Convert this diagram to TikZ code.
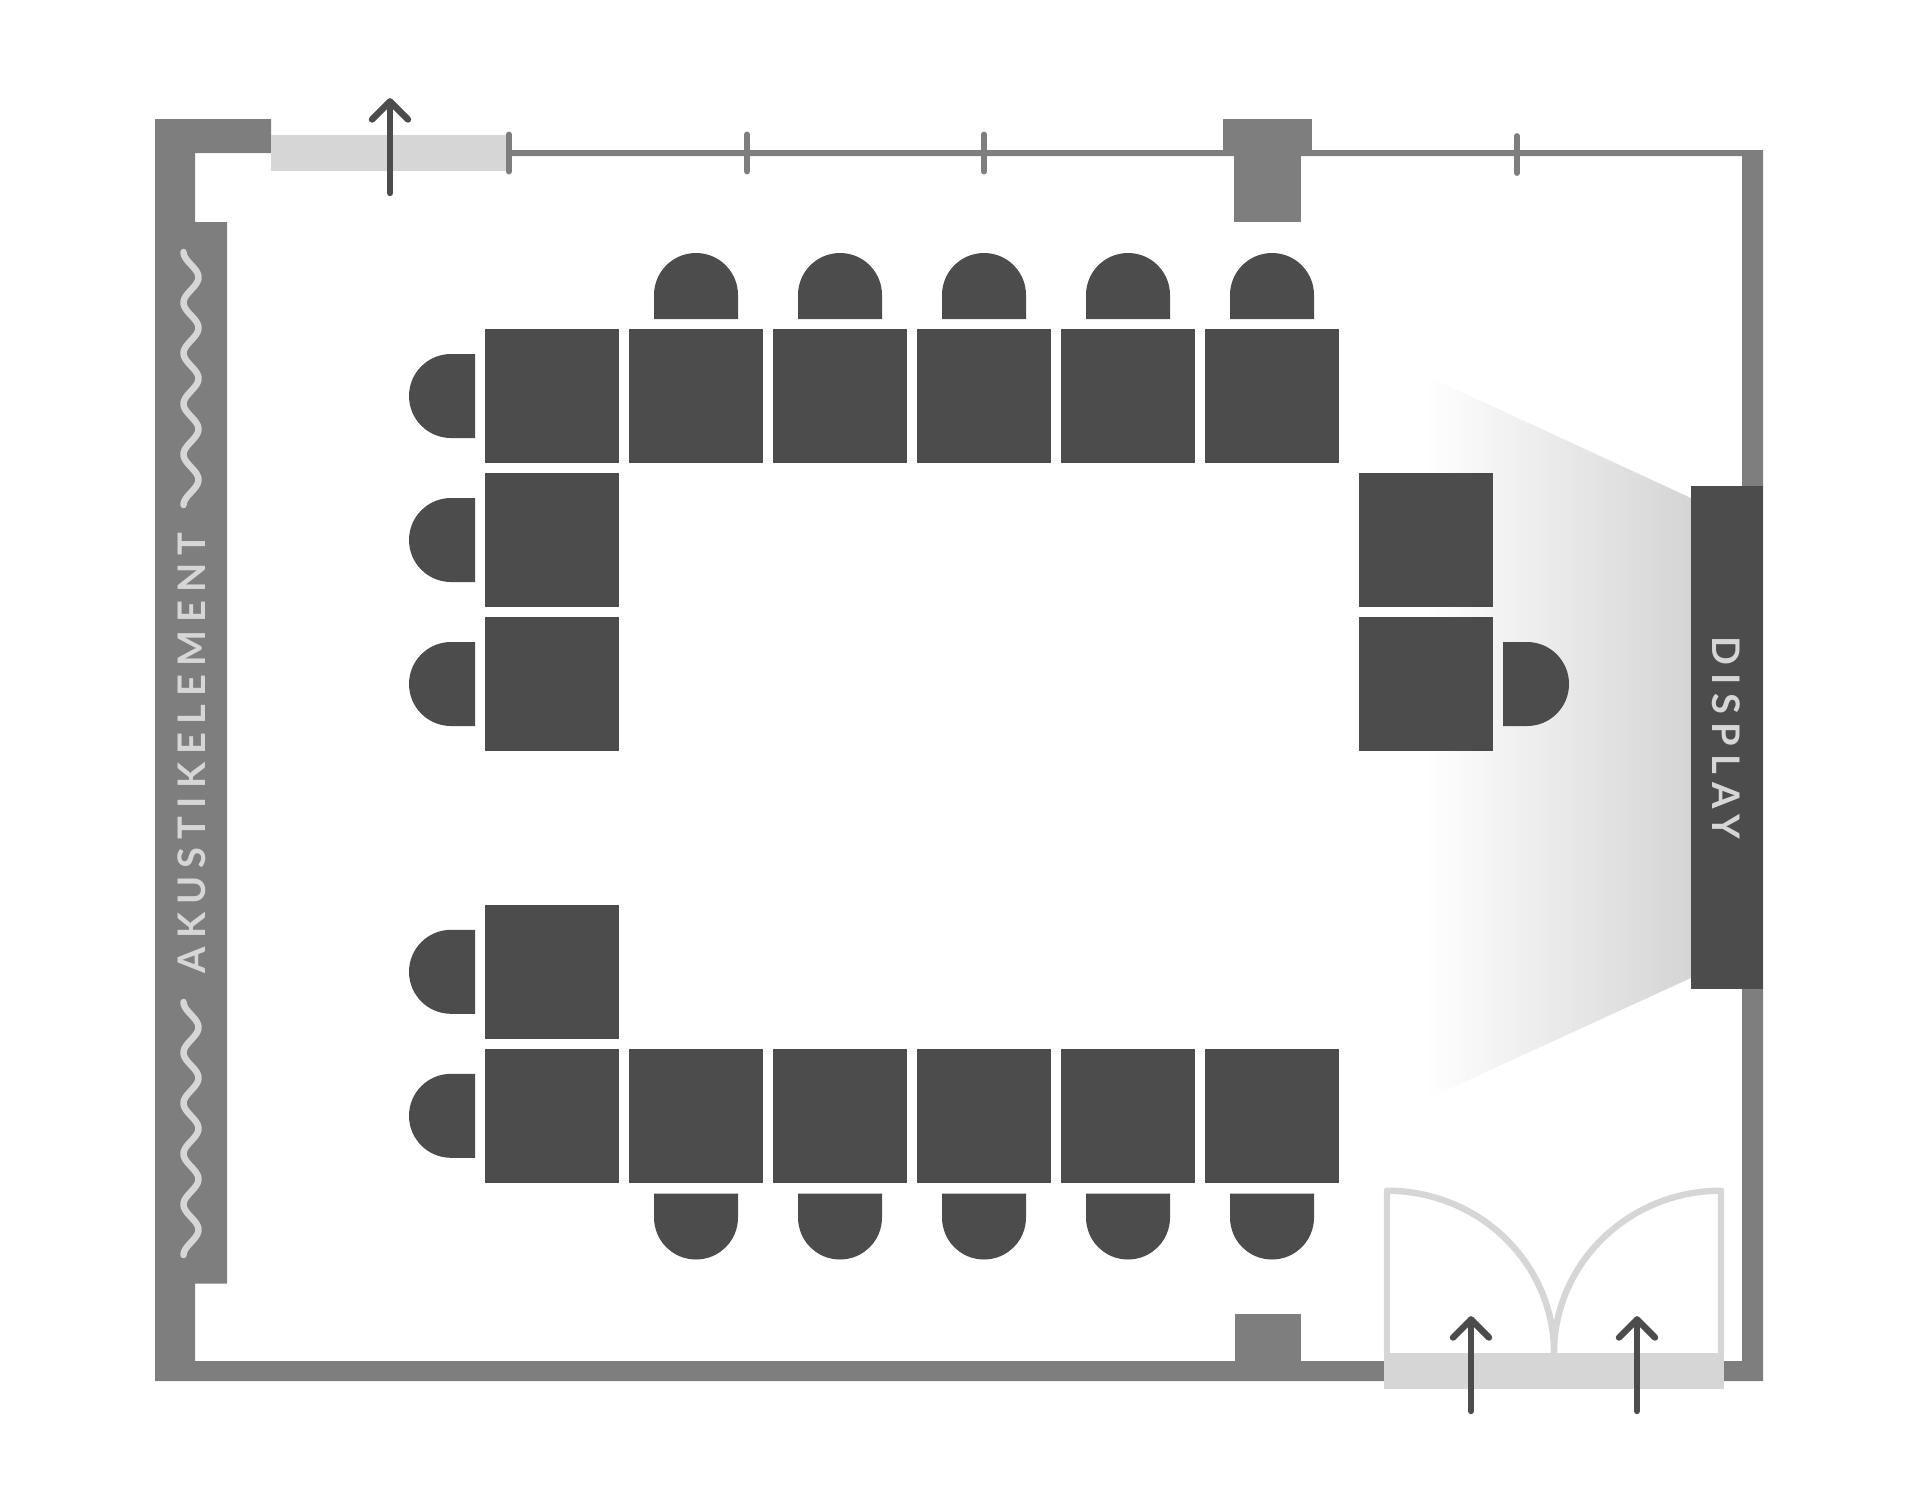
\documentclass[tikz,border=0pt]{standalone}
\usepackage{fontspec}
\setmainfont{Lato}
\newfontfamily\labelfontA[LetterSpace=21.5]{Lato Bold}
\newfontfamily\labelfontB[LetterSpace=22]{Lato Bold}
\definecolor{wallgray}{HTML}{7E7E7E}
\definecolor{darkgray}{HTML}{4C4C4C}
\definecolor{lightgray}{HTML}{D6D6D6}
\definecolor{conegray}{HTML}{D4D4D4}
\tikzset{
  wall/.style={fill=wallgray},
  tablebox/.style={fill=darkgray},
  chairbox/.style={fill=darkgray,rounded corners=42pt},
  glass/.style={fill=lightgray},
  tick/.style={draw=wallgray,line width=5.8pt,line cap=round},
  exitarrow/.style={draw=darkgray,line width=6.4pt,line cap=round,line join=round},
  doorline/.style={draw=lightgray,line width=6.4pt,line join=round},
  wavy/.style={draw=lightgray,line width=6.5pt,line cap=round,line join=round},
  labeltext/.style={text=lightgray,inner sep=0pt,font=\fontsize{38}{38}\selectfont}
}
\newcommand{\tbl}[2]{\fill[tablebox] (#1,#2) rectangle ++(134,134);}
\newcommand{\chairL}[1]{\fill[chairbox] (475,#1) -- (409,#1) -- (409,#1+84) -- (475,#1+84);}
\newcommand{\chairR}[1]{\fill[chairbox] (1503,#1) -- (1569,#1) -- (1569,#1+84) -- (1503,#1+84);}
\newcommand{\chairT}[1]{\fill[chairbox] (#1,319) -- (#1,253) -- (#1+84,253) -- (#1+84,319);}
\newcommand{\chairB}[1]{\fill[chairbox] (#1,1193.5) -- (#1,1259.5) -- (#1+84,1259.5) -- (#1+84,1193.5);}
\newcommand{\upArrow}[2]{\draw[exitarrow] (#1,#2) -- (#1,#2-91.5); \draw[exitarrow] (#1-18,#2-73.5) -- (#1,#2-91.5) -- (#1+18,#2-73.5);}
\newcommand{\wavyline}[1]{\draw[wavy,samples=121,domain=0:253] plot ({191-7.5*cos(7.1146*\x)},{#1+\x});}
\begin{document}
\begin{tikzpicture}[x=1pt,y=-1pt]
\useasboundingbox (0,0) rectangle (1920,1500);
% projection cone
\shade[left color=white,right color=conegray] (1425,375) -- (1693,499) -- (1693,977) -- (1425,1100) -- cycle;
% walls
\fill[wall] (155,119) -- (271,119) -- (271,153) -- (195,153) -- (195,222) -- (227,222) -- (227,1283.5) -- (195,1283.5) -- (195,1361) -- (1384,1361) -- (1384,1381) -- (155,1381) -- cycle;
\fill[wall] (1724,1361) -- (1742,1361) -- (1742,156) -- (509,156) -- (509,150) -- (1763,150) -- (1763,1381) -- (1724,1381) -- cycle;
\fill[wall] (1223,119) rectangle (1312,150);
\fill[wall] (1234,150) rectangle (1301,222);
\fill[wall] (1234.5,1314) rectangle (1301,1362);
% top window
\fill[glass] (271,135) rectangle (507,171);
% ticks
\draw[tick] (509,134.5) -- (509,171.5);
\draw[tick] (747,134.5) -- (747,171.5);
\draw[tick] (984,134.5) -- (984,171.5);
\draw[tick] (1517,136) -- (1517,173);
\upArrow{390}{193}
% acoustic waves
\wavyline{252}
\wavyline{1002}
\node[labeltext,rotate=90] (akustik) at (192,753) {\labelfontA AKUSTIKELEMENT};
% tables
\foreach \c in {485,629,773,917,1061,1205} {\tbl{\c}{329}}
\tbl{485}{473}
\tbl{485}{617}
\tbl{485}{904.8}
\foreach \c in {485,629,773,917,1061,1205} {\tbl{\c}{1048.8}}
\tbl{1359}{473}
\tbl{1359}{617}
% chairs
\foreach \c in {654,798,942,1086,1230} {\chairT{\c}\chairB{\c}}
\foreach \r in {354,498,642,929.8,1073.8} {\chairL{\r}}
\chairR{642}
% display
\fill[darkgray] (1691,486) rectangle (1763,989);
\node[labeltext,rotate=-90] (display) at (1726,738) {\labelfontB DISPLAY};
% doors
\draw[doorline] (1387,1353) -- (1387,1190.7) .. controls (1479,1190.7) and (1554,1263) .. (1554,1353);
\draw[doorline] (1721,1353) -- (1721,1190.7) .. controls (1629,1190.7) and (1554,1263) .. (1554,1353);
\fill[glass] (1384,1353) rectangle (1724,1389);
\upArrow{1471}{1411}
\upArrow{1637}{1411}
\end{tikzpicture}
\end{document}
